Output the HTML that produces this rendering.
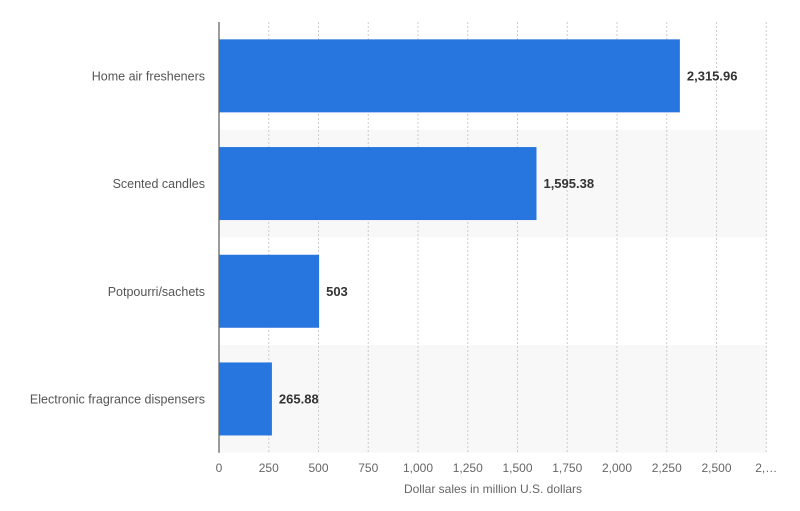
<!DOCTYPE html>
<html><head><meta charset="utf-8"><style>
body{margin:0;background:#fff;width:800px;height:506px;overflow:hidden;font-family:"Liberation Sans",sans-serif}
</style></head><body>
<svg width="800" height="506" id="chart" xmlns="http://www.w3.org/2000/svg"></svg>
<script>
const categories=["Home air fresheners","Scented candles","Potpourri/sachets","Electronic fragrance dispensers"];
const values=[2315.96,1595.38,503,265.88];
const valueLabels=["2,315.96","1,595.38","503","265.88"];
const ticks=[0,250,500,750,1000,1250,1500,1750,2000,2250,2500,2750];
const tickLabels=["0","250","500","750","1,000","1,250","1,500","1,750","2,000","2,250","2,500","2,…"];
const svg=document.getElementById('chart');
const NS="http://www.w3.org/2000/svg";
const x0=219,xScale=0.199,plotTop=22,band=107.7,barH=73;
const x=v=>x0+v*xScale;
function mk(t,a,txt){const e=document.createElementNS(NS,t);for(const k in a)e.setAttribute(k,a[k]);if(txt!=null)e.textContent=txt;svg.appendChild(e);return e;}
categories.forEach((c,i)=>{if(i%2==1){const r=mk('rect',{x:x0,y:plotTop+i*band,width:x(2750)-x0,height:band,fill:'#f8f8f8'});

}});
ticks.forEach((t,i)=>{
 if(i>0){const g=mk('line',{x1:x(t),x2:x(t),y1:plotTop,y2:plotTop+4*band,stroke:'#ccc','stroke-dasharray':'2,2','stroke-width':1});
 
 }
 const l=mk('text',{x:x(t),y:472,'text-anchor':'middle','font-size':12,fill:'#666'},tickLabels[i]);
 
 
});
categories.forEach((c,i)=>{
 const cy=plotTop+i*band+band/2;
 const b=mk('rect',{x:x0,y:cy-barH/2,width:x(values[i])-x0,height:barH,fill:'#2775de'});
 
 
 const v=mk('text',{x:x(values[i])+7,y:cy+4.5,'font-size':13,fill:'#333','font-weight':'bold'},valueLabels[i]);
 
 
 const cl=mk('text',{x:205,y:cy+4.5,'text-anchor':'end','font-size':12.5,fill:'#555'},c);
 
 
});
const ax=mk('line',{x1:x0,x2:x0,y1:plotTop,y2:plotTop+4*band,stroke:'#666','stroke-width':1.3});


const tt=mk('text',{x:493,y:493,'text-anchor':'middle','font-size':12,fill:'#666'},'Dollar sales in million U.S. dollars');


</script>
</body></html>
